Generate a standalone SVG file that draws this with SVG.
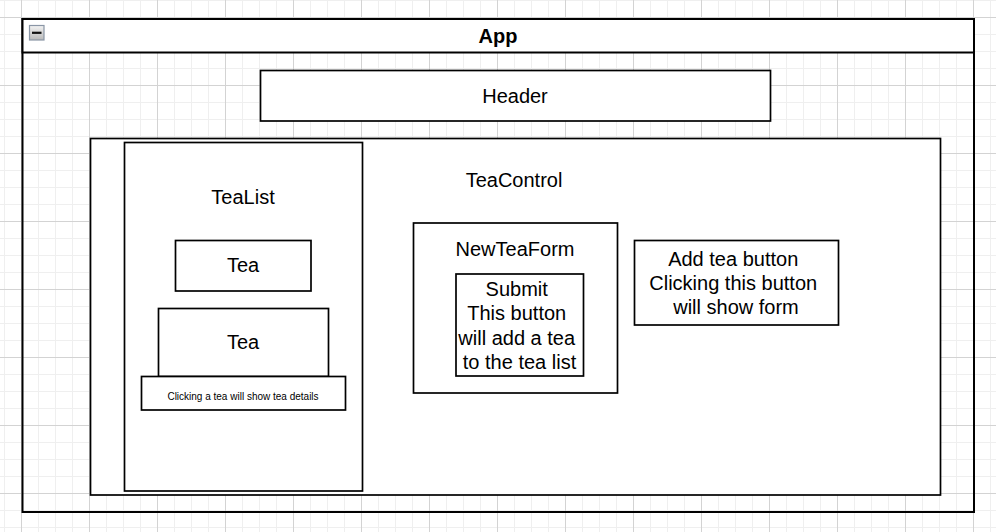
<svg xmlns="http://www.w3.org/2000/svg" width="996" height="532" viewBox="0 0 996 532">
  <defs>
    <pattern id="minor" width="17" height="17" x="4" y="0" patternUnits="userSpaceOnUse">
      <rect x="0" y="0" width="1" height="17" fill="#efefef"/>
      <rect x="0" y="0" width="17" height="1" fill="#efefef"/>
    </pattern>
    <pattern id="major" width="68" height="68" x="21" y="17" patternUnits="userSpaceOnUse">
      <rect x="0" y="0" width="1" height="68" fill="#d3d3d3"/>
      <rect x="0" y="0" width="68" height="1" fill="#d3d3d3"/>
    </pattern>
    <linearGradient id="btn" x1="0" y1="0" x2="0" y2="1">
      <stop offset="0" stop-color="#f4f4f4"/>
      <stop offset="1" stop-color="#b8b8b8"/>
    </linearGradient>
  </defs>
  <style>
    .box { fill: #ffffff; stroke: #000000; stroke-width: 1.7; }
    .big { fill: none; stroke: #000000; stroke-width: 2; }
    .t { font-family: "Liberation Sans", Arial, sans-serif; font-size: 20px; fill: #000000; text-anchor: middle; }
    .s { font-family: "Liberation Sans", Arial, sans-serif; font-size: 10px; fill: #000000; text-anchor: middle; }
    .b { font-family: "Liberation Sans", Arial, sans-serif; font-size: 20px; font-weight: bold; fill: #000000; text-anchor: middle; }
  </style>
  <rect width="996" height="532" fill="#ffffff"/>
  <rect width="996" height="532" fill="url(#minor)"/>
  <rect width="996" height="532" fill="url(#major)"/>

  <g id="app">
    <rect x="22.5" y="19" width="951.5" height="493" class="big"/>
    <rect x="22.5" y="19" width="951.5" height="33.5" fill="#ffffff" stroke="#000" stroke-width="2"/>
    <rect x="29.5" y="25.5" width="14.5" height="14.5" fill="url(#btn)" stroke="#8a96a6" stroke-width="1.2"/>
    <rect x="32" y="31.7" width="9.5" height="2.2" fill="#111"/>
    <text x="498" y="42.5" class="b">App</text>
  </g>

  <g id="header">
    <rect x="260.5" y="70.5" width="510" height="50.5" class="box"/>
    <text x="515" y="103" class="t">Header</text>
  </g>

  <g id="teacontrol">
    <rect x="90.5" y="138.5" width="850" height="356.5" class="box"/>
    <text x="514" y="187" class="t">TeaControl</text>
  </g>

  <g id="tealist">
    <rect x="124.5" y="142.5" width="238" height="348.5" class="box"/>
    <text x="243" y="204" class="t">TeaList</text>
  </g>

  <g id="tea1">
    <rect x="175.5" y="240.5" width="135.5" height="50.5" class="box"/>
    <text x="243" y="272" class="t">Tea</text>
  </g>

  <g id="tea2">
    <rect x="158.5" y="308.5" width="170" height="68" class="box"/>
    <text x="243" y="349" class="t">Tea</text>
  </g>

  <g id="tea-details">
    <rect x="141.5" y="376.5" width="204" height="33.5" class="box"/>
    <text x="243" y="400.3" class="s">Clicking a tea will show tea details</text>
  </g>

  <g id="newteaform">
    <rect x="413.5" y="223" width="204" height="170" class="box"/>
    <text x="515" y="255.5" class="t">NewTeaForm</text>
  </g>

  <g id="submit">
    <rect x="456" y="274" width="127.5" height="102" class="box"/>
    <text class="t" x="519.5">
      <tspan x="519.5" y="296">Submit</tspan>
      <tspan x="519.5" y="319.5">This button</tspan>
      <tspan x="519.5" y="344.5">will add a tea</tspan>
      <tspan x="519.5" y="368.5">to the tea list</tspan>
    </text>
  </g>

  <g id="add-tea-button">
    <rect x="634.5" y="240.5" width="204" height="84.5" class="box"/>
    <text class="t" x="736">
      <tspan x="736" y="265.5">Add tea button</tspan>
      <tspan x="736" y="289.5">Clicking this button</tspan>
      <tspan x="736" y="313.5">will show form</tspan>
    </text>
  </g>

  <g id="connectors"></g>
</svg>
